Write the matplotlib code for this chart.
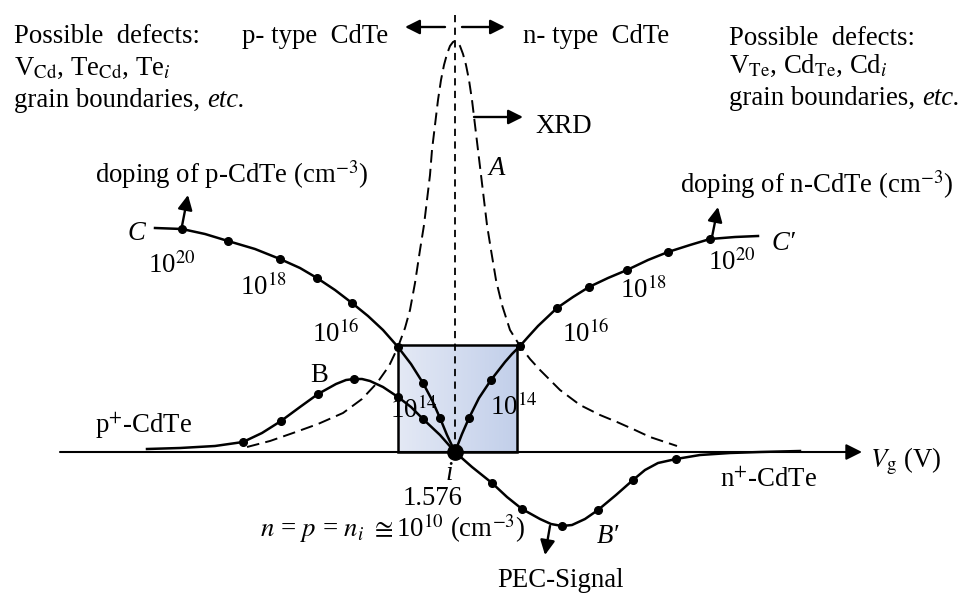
import numpy as np
import matplotlib
matplotlib.use("Agg")
import matplotlib.pyplot as plt
from matplotlib.patches import Rectangle
from matplotlib.colors import LinearSegmentedColormap

plt.rcParams['font.family'] = ['Liberation Serif', 'DejaVu Serif']
plt.rcParams['mathtext.fontset'] = 'stix'

# ---------------- data (pixel space) ----------------
# XRD peak (curve A, dashed)
A_x = [247, 270, 293, 318, 343, 362, 377, 389, 398, 405, 410, 415, 420, 424, 427, 430,
       432, 435, 438, 441, 444, 447, 450, 453, 455, 457, 460, 463, 466, 469, 472, 475,
       478, 481, 484, 487, 491, 496, 502, 510, 520, 530, 540, 560, 580, 600, 617, 635,
       650, 665, 677]
A_y = [447, 441, 433, 424, 413, 399, 383, 366, 347, 328, 310, 283, 250, 225, 200, 175,
       150, 125, 100, 80, 65, 54, 46, 42, 41, 42, 46, 54, 65, 80, 100, 125,
       150, 175, 200, 225, 250, 280, 305, 330, 346, 359, 370, 390, 405, 415, 422, 430,
       437, 442, 446]

# doping of p-CdTe (curve C)
C_x = [155, 182, 205, 228, 255, 280, 300, 317, 335, 352, 368, 383, 398, 411, 423, 432, 440, 447, 455]
C_y = [228, 229, 234, 241, 249, 259, 268, 278, 290, 303, 316, 330, 347, 364, 383, 400, 418, 435, 452]
C_dots = [1, 3, 5, 7, 9, 12, 14, 16]

# doping of n-CdTe (curve C')
Cp_x = [455, 462, 469, 479, 491, 505, 512, 520, 528, 538, 557, 573, 589, 608, 627, 648, 668, 690, 710, 735, 758]
Cp_y = [452, 434, 418, 398, 380, 362, 354, 346, 337, 326, 308, 297, 287, 278, 270, 260, 252, 245, 239, 237, 236]
Cp_dots = [2, 4, 7, 10, 12, 14, 16, 18]

# PEC signal, p side (curve B)
B_x = [147, 180, 215, 243, 262, 281, 300, 318, 336, 346, 354, 362, 370, 383, 398, 411, 423, 440, 455]
B_y = [449, 448, 446, 442, 433, 421, 407, 394, 384, 380, 379, 379, 381, 387, 397, 407, 419, 435, 452]
B_dots = [3, 5, 7, 10, 14, 16]

# PEC signal, n side (curve B')
Bp_x = [455, 472, 492, 507, 522, 540, 551, 562, 572, 585, 598, 616, 633, 645, 658, 676, 700, 730, 760, 800]
Bp_y = [452, 467, 483, 497, 509, 519, 524, 526, 525, 519, 510, 495, 480, 470, 463, 459, 455, 453, 452, 451]
Bp_dots = [2, 4, 7, 10, 12, 15]

# intrinsic point and box corners
i_point = (455, 452)
box_x = [398, 517]
box_y = [345, 452]

# ---------------- figure ----------------
fig = plt.figure(figsize=(9.8, 5.96), dpi=100)
ax = fig.add_axes([0, 0, 1, 1])
ax.set_xlim(0, 980)
ax.set_ylim(596, 0)
ax.axis('off')

# shaded box with gradient
grad = np.linspace(0, 1, 256).reshape(1, -1)
cmap = LinearSegmentedColormap.from_list('bx', ['#e4e9f5', '#c2cfea'])
ax.imshow(grad, extent=[box_x[0], box_x[1], box_y[1], box_y[0]], cmap=cmap,
          aspect='auto', zorder=1)
ax.add_patch(Rectangle((box_x[0], box_y[0]), box_x[1] - box_x[0], box_y[1] - box_y[0],
                       fill=False, ec='black', lw=1.8, zorder=3))

# horizontal V_g axis
ax.annotate('', xy=(862, 452), xytext=(60, 452),
            arrowprops=dict(arrowstyle='-|>', lw=1.5, color='black',
                            mutation_scale=24, shrinkA=0, shrinkB=0), zorder=2)

# vertical dashed line
ax.plot([455, 455], [15, 452], color='black', lw=1.3, dashes=(4, 3), zorder=2)

# XRD dashed curve
ax.plot(A_x, A_y, color='black', lw=1.4, dashes=(6.5, 3.2), zorder=2)

# solid curves
for xs, ys, dots in [(C_x, C_y, C_dots), (Cp_x, Cp_y, Cp_dots),
                     (B_x, B_y, B_dots), (Bp_x, Bp_y, Bp_dots)]:
    ax.plot(xs, ys, color='black', lw=1.8, zorder=4, solid_joinstyle='round')
    ax.plot([xs[k] for k in dots], [ys[k] for k in dots], 'o', color='black',
            ms=5.5, zorder=5)

ax.plot([i_point[0]], [i_point[1]], 'o', color='black', ms=11, zorder=6)


def arrow(x0, y0, x1, y1, ms=22, lw=1.7):
    ax.annotate('', xy=(x1, y1), xytext=(x0, y0),
                arrowprops=dict(arrowstyle='-|>', lw=lw, color='black',
                                mutation_scale=ms, shrinkA=0, shrinkB=0), zorder=6)


arrow(445, 27, 405, 27)
arrow(462, 27, 505, 27)
arrow(474, 117, 523, 117)
arrow(182, 226, 188, 195)
arrow(712, 237, 718, 207)
arrow(550, 526, 545, 555)

fs = 19.3


def txt(x, y, s, ha='left', **kw):
    ax.text(x, y, s, ha=ha, va='baseline', fontsize=fs, color='black', zorder=7, **kw)


# top-left defects block
txt(14, 43, 'Possible  defects:')
txt(14, 75, r'V$_{\mathrm{Cd}}$, Te$_{\mathrm{Cd}}$, Te$_{i}$')
txt(14, 107, 'grain boundaries, ')
# top-right defects block
txt(729, 45, 'Possible  defects:')
txt(729, 73, r'V$_{\mathrm{Te}}$, Cd$_{\mathrm{Te}}$, Cd$_{i}$')
txt(729, 105, 'grain boundaries, ')

txt(242, 43, 'p- type  CdTe')
txt(523, 43, 'n- type  CdTe')
txt(535, 133, 'XRD')
txt(488, 175, 'A', style='italic')

txt(95, 183, r'doping of p-CdTe (cm$^{-3}$)')
txt(680, 193, r'doping of n-CdTe (cm$^{-3}$)')
txt(128, 240, 'C', style='italic')
txt(772, 250, 'C\u2032', style='italic')

txt(148, 273, r'10$^{20}$')
txt(240, 295, r'10$^{18}$')
txt(312, 342, r'10$^{16}$')
txt(390, 418, r'10$^{14}$')
txt(310, 382, 'B')
txt(95, 433, r'p$^{+}$-CdTe')

txt(490, 415, r'10$^{14}$')
txt(562, 342, r'10$^{16}$')
txt(620, 298, r'10$^{18}$')
txt(708, 270, r'10$^{20}$')

txt(449, 480, 'i', ha='center', style='italic')
txt(433, 505, '1.576', ha='center')
txt(393, 537, r'$n$ = $p$ = $n_{i}$ $\cong$10$^{10}$ (cm$^{-3}$)', ha='center')
txt(597, 543, 'B\u2032', style='italic')
txt(497, 587, 'PEC-Signal')
txt(720, 487, r'n$^{+}$-CdTe')
txt(870, 467, r'$V_{\mathrm{g}}$ (V)')

# italic "etc." pieces
fig.canvas.draw()
r = fig.canvas.get_renderer()
for t in list(ax.texts):
    if t.get_text() == 'grain boundaries, ':
        bb = t.get_window_extent(r)
        x_end = ax.transData.inverted().transform((bb.x1, bb.y0))[0]
        ax.text(x_end, t.get_position()[1], 'etc.', style='italic', ha='left',
                va='baseline', fontsize=fs, zorder=7)

fig.savefig('out.png', dpi=100)
